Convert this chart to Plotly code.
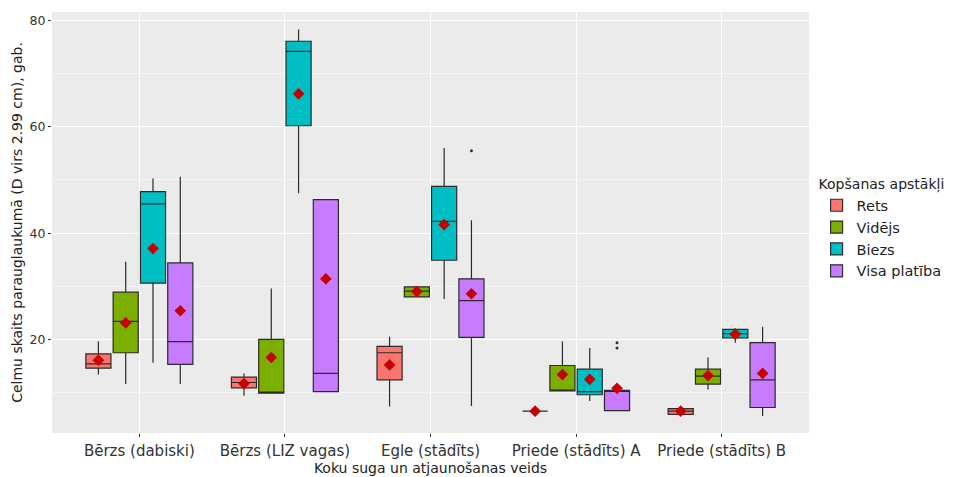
import plotly.graph_objects as go

# Species / regeneration type (x categories)
categories = ["Bērzs (dabiski)", "Bērzs (LIZ vagas)", "Egle (stādīts)",
              "Priede (stādīts) A", "Priede (stādīts) B"]

# Tending conditions (fill groups)
groups = ["Rets", "Vidējs", "Biezs", "Visa platība"]
colors = ["#F8766D", "#7CAE00", "#00BFC4", "#C77CFF"]

# Box statistics per group, one value per category
lower = {
    "Rets":         [13.4,  9.4,  7.4,  6.5,  5.9],
    "Vidējs":       [11.6,  9.9, 28.0, 10.3, 10.6],
    "Biezs":        [15.6, 47.5, 27.6,  8.4, 19.4],
    "Visa platība": [11.6, 10.2,  7.5,  6.6,  5.6],
}
q1 = {
    "Rets":         [14.6, 10.9, 12.4,  6.5,  5.9],
    "Vidējs":       [17.5,  9.9, 28.0, 10.3, 11.6],
    "Biezs":        [30.6, 60.2, 34.9,  9.6, 20.3],
    "Visa platība": [15.3, 10.2, 20.4,  6.6,  7.2],
}
median = {
    "Rets":         [15.4, 11.9, 17.5,  6.5,  6.5],
    "Vidējs":       [23.4,  9.9, 29.1, 10.3, 13.1],
    "Biezs":        [45.5, 74.2, 42.2, 10.2, 21.1],
    "Visa platība": [19.6, 13.6, 27.3, 10.4, 12.4],
}
q3 = {
    "Rets":         [17.3, 12.9, 18.7,  6.5,  7.0],
    "Vidējs":       [28.9, 20.0, 29.9, 15.1, 14.4],
    "Biezs":        [47.8, 76.1, 48.8, 14.4, 21.9],
    "Visa platība": [34.4, 46.3, 31.4, 10.4, 19.4],
}
upper = {
    "Rets":         [19.6, 13.6, 20.5,  6.5,  7.0],
    "Vidējs":       [34.6, 29.6, 29.9, 19.6, 16.6],
    "Biezs":        [50.3, 78.3, 56.0, 18.4, 22.1],
    "Visa platība": [50.6, 46.3, 42.4, 10.4, 22.4],
}
mean = {
    "Rets":         [16.1, 11.7, 15.2,  6.5,  6.5],
    "Vidējs":       [23.1, 16.6, 29.0, 13.4, 13.2],
    "Biezs":        [37.1, 66.2, 41.6, 12.5, 21.0],
    "Visa platība": [25.4, 31.4, 28.6, 10.8, 13.6],
}

# Outlying observations: (category index, group, value)
outliers = [
    (2, "Visa platība", 55.5),
    (3, "Visa platība", 19.4),
    (3, "Visa platība", 18.4),
]

y_ticks = [20, 40, 60, 80]

# Dodge layout on a numeric category axis
dodge = 0.75
n = len(groups)
slot = dodge / n
offsets = [-dodge / 2 + slot * (j + 0.5) for j in range(n)]
box_w = slot * 0.92

fig = go.Figure()

for j, g in enumerate(groups):
    xs = [i + offsets[j] for i in range(len(categories))]
    fig.add_trace(go.Box(
        x=xs, q1=q1[g], median=median[g], q3=q3[g],
        lowerfence=lower[g], upperfence=upper[g],
        name=g, width=box_w, whiskerwidth=0,
        fillcolor=colors[j],
        line=dict(color="#2b2b2b", width=1.2),
        boxpoints=False, hoverinfo="skip",
        legendgroup=g,
    ))

for j, g in enumerate(groups):
    xs = [i + offsets[j] for i in range(len(categories))]
    fig.add_trace(go.Scatter(
        x=xs, y=mean[g], mode="markers",
        marker=dict(symbol="diamond", size=9, color="#C80000"),
        showlegend=False, hoverinfo="skip",
    ))

gi = {g: j for j, g in enumerate(groups)}
fig.add_trace(go.Scatter(
    x=[c + offsets[gi[g]] for c, g, v in outliers],
    y=[v for c, g, v in outliers],
    mode="markers",
    marker=dict(size=3, color="#333333"),
    showlegend=False, hoverinfo="skip",
))

font = "DejaVu Sans, Verdana, sans-serif"

fig.update_layout(
    width=972, height=477,
    margin=dict(l=52, r=163, t=12, b=44, autoexpand=False),
    paper_bgcolor="white",
    plot_bgcolor="#EBEBEB",
    font=dict(family=font, size=13, color="#333333"),
    showlegend=True,
    legend=dict(
        title=dict(text="Kopšanas apstākļi", font=dict(size=14, color="#222222")),
        x=1.01, xanchor="left", y=0.622, yanchor="top",
        font=dict(size=14.5, color="#222222"),
        bgcolor="rgba(0,0,0,0)",
        tracegroupgap=0, itemwidth=30,
    ),
    xaxis=dict(
        range=[-0.6, len(categories) - 0.4],
        tickmode="array",
        tickvals=list(range(len(categories))),
        ticktext=categories,
        showgrid=True, gridcolor="white", gridwidth=1.2,
        zeroline=False, showline=False, automargin=False,
        ticks="outside", ticklen=3, tickcolor="#333333",
        ticklabelstandoff=1,
        tickfont=dict(size=15, color="#333333"),
        title=dict(text="Koku suga un atjaunošanas veids",
                   font=dict(size=14, color="#222222"), standoff=2),
    ),
    yaxis=dict(
        range=[2.4, 81.6],
        tickmode="array", tickvals=y_ticks,
        showgrid=True, gridcolor="white", gridwidth=1.2,
        minor=dict(tickmode="array", tickvals=[10, 30, 50, 70],
                   showgrid=True, gridcolor="#F5F5F5", gridwidth=0.6),
        zeroline=False, showline=False, automargin=False,
        ticks="outside", ticklen=3, tickcolor="#333333",
        tickfont=dict(size=12.5, color="#333333"),
        title=dict(text="Celmu skaits parauglaukumā (D virs 2.99 cm), gab.",
                   font=dict(size=14, color="#222222"), standoff=3),
    ),
)

fig.write_html("out.html")
